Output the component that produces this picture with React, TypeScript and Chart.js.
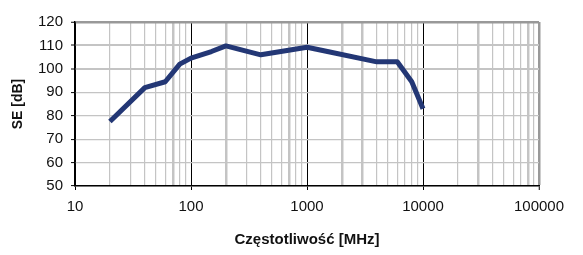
import React, { useEffect, useRef } from "react";
import { Chart, registerables } from "chart.js";

Chart.register(...registerables);

// Frequency [MHz] and shielding effectiveness [dB]
const frequencies = [20, 40, 60, 80, 100, 150, 200, 400, 1000, 1500, 4000, 6000, 8000, 10000];
const seValues = [77.5, 92, 94.5, 102, 104.6, 107.4, 109.8, 106, 109.2, 107.4, 103, 103, 94.5, 83];

const xDecades = [10, 100, 1000, 10000, 100000];
const xMultipliers = [1, 2, 3, 4, 5, 6, 7, 8, 9];
const xThickMinor = [70, 200, 700, 2000, 3000, 30000, 80000];
const yTicks = [50, 60, 70, 80, 90, 100, 110, 120];

const xTitle = "Częstotliwość [MHz]";
const yTitle = "SE [dB]";

const FONT = "'Liberation Sans', Arial, Helvetica, sans-serif";
const LINE_COLOR = "#233775";

export default function App() {
  const canvasRef = useRef<HTMLCanvasElement | null>(null);

  useEffect(() => {
    const canvas = canvasRef.current;
    if (!canvas) return;

    const gridValues: number[] = [];
    xDecades.forEach((d, i) => {
      if (i === xDecades.length - 1) {
        gridValues.push(d);
      } else {
        xMultipliers.forEach((m) => gridValues.push(d * m));
      }
    });

    const isDecade = (v: number) => xDecades.includes(v);

    const chart = new Chart(canvas, {
      type: "line",
      data: {
        datasets: [
          {
            data: frequencies.map((f, i) => ({ x: f, y: seValues[i] })),
            borderColor: LINE_COLOR,
            backgroundColor: LINE_COLOR,
            borderWidth: 5,
            pointRadius: 0,
            tension: 0,
            borderJoinStyle: "round",
            borderCapStyle: "butt",
          },
        ],
      },
      options: {
        animation: false,
        responsive: false,
        maintainAspectRatio: false,
        layout: { padding: { top: 22, right: 44, left: 0, bottom: 0 } },
        plugins: {
          legend: { display: false },
          tooltip: { enabled: false },
          title: { display: false },
        },
        scales: {
          x: {
            type: "logarithmic",
            min: 10,
            max: 100000,
            afterBuildTicks: (scale: any) => {
              scale.ticks = gridValues.map((v) => ({ value: v, major: isDecade(v) }));
            },
            afterFit: (scale: any) => {
              scale.height = 69;
              scale.paddingLeft = 0;
              scale.paddingRight = 0;
            },
            ticks: {
              autoSkip: false,
              maxRotation: 0,
              minRotation: 0,
              padding: 8,
              color: "#111",
              font: { family: FONT, size: 15 },
              callback: (value: any) => (isDecade(Number(value)) ? String(value) : ""),
            },
            grid: {
              drawTicks: true,
              tickLength: 4,
              color: (ctx: any) => {
                const v = ctx.tick?.value;
                if (v === 100000) return "#999999";
                if (isDecade(v)) return "#000000";
                return "#c4c4c4";
              },
              lineWidth: (ctx: any) => {
                const v = ctx.tick?.value;
                if (v === 100000) return 2.5;
                if (isDecade(v)) return 1;
                if (xThickMinor.includes(v)) return 2.5;
                return 1.2;
              },
              tickColor: (ctx: any) => (isDecade(ctx.tick?.value) ? "#000000" : "rgba(0,0,0,0)"),
              tickWidth: 1,
            },
            border: { display: true, color: "#000000", width: 1.5 },
            title: {
              display: true,
              text: xTitle,
              color: "#111",
              font: { family: FONT, size: 15, weight: "bold" },
              padding: { top: 0, bottom: 6 },
            },
          },
          y: {
            type: "linear",
            min: 50,
            max: 120,
            afterBuildTicks: (scale: any) => {
              scale.ticks = yTicks.map((v) => ({ value: v }));
            },
            afterFit: (scale: any) => {
              scale.width = 75;
              scale.paddingTop = 0;
              scale.paddingBottom = 0;
            },
            ticks: {
              padding: 8,
              color: "#111",
              font: { family: FONT, size: 15 },
              callback: (value: any) => String(value),
            },
            grid: {
              drawTicks: true,
              tickLength: 4,
              color: (ctx: any) => (ctx.tick?.value === 120 ? "#999999" : "#c4c4c4"),
              lineWidth: (ctx: any) => {
                const v = ctx.tick?.value;
                if (v === 120) return 2.5;
                if (v === 110 || v === 100) return 2;
                return 1.2;
              },
              tickColor: "#000000",
              tickWidth: 1,
            },
            border: { display: true, color: "#000000", width: 1.5 },
            title: {
              display: true,
              text: yTitle,
              color: "#111",
              font: { family: FONT, size: 14, weight: "bold" },
              padding: { top: 10, bottom: 0 },
            },
          },
        },
      },
    } as any);

    return () => chart.destroy();
  }, []);

  return (
    <div style={{ position: "fixed", left: 0, top: 0, width: 583, height: 255, background: "#fff" }}>
      <canvas ref={canvasRef} width={583} height={255} style={{ display: "block" }} />
    </div>
  );
}
